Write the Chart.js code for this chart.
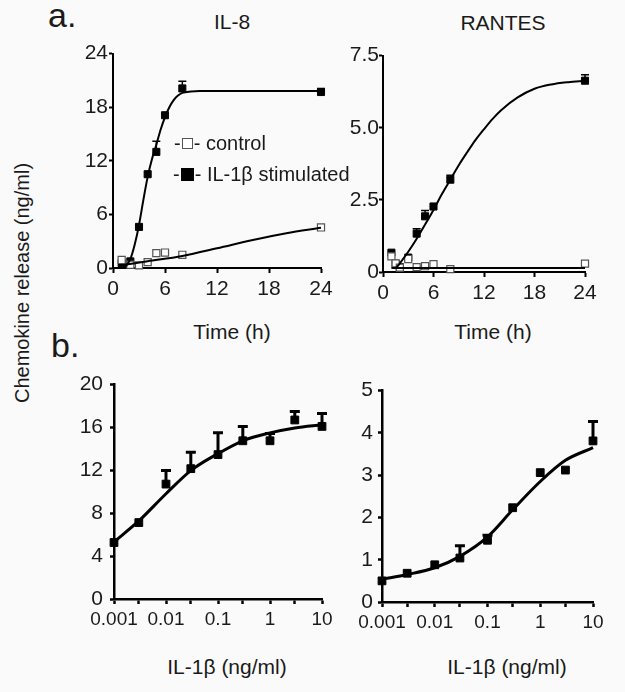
<!DOCTYPE html>
<html>
<head>
<meta charset="utf-8">
<script src="https://cdn.jsdelivr.net/npm/chart.js@4.4.0/dist/chart.umd.min.js"></script>
<style>
body { margin: 0; background: #fafafa; font-family: 'Liberation Sans', Arial, sans-serif; color: #1a1a1a; }
#page { position: relative; width: 625px; height: 692px; overflow: hidden; }
.box { position: absolute; }
.txt { position: absolute; white-space: nowrap; transform: translate(-50%, -50%); font-size: 21px; }
.letter { position: absolute; font-size: 34px; }
.ylab { position: absolute; white-space: nowrap; font-size: 20px; transform: translate(-50%, -50%) rotate(-90deg); }
.leg { position: absolute; font-size: 20px; display: flex; align-items: center; height: 24px; }
.sq { display: inline-block; width: 11px; height: 11px; margin: 0 1px; box-sizing: border-box; }
.sq.open { background: #fff; border: 1.5px solid #555; }
.sq.full { background: #000; width: 13px; height: 13px; }
</style>
</head>
<body>
<div id="page">
  <div class="letter" style="left:48px; top:-4px">a.</div>
  <div class="letter" style="left:51px; top:326px">b.</div>
  <div class="txt" style="left:232px; top:22px">IL-8</div>
  <div class="txt" style="left:503px; top:23px">RANTES</div>
  <div class="txt" style="left:232px; top:332px">Time (h)</div>
  <div class="txt" style="left:493px; top:332px">Time (h)</div>
  <div class="txt" style="left:227px; top:667px">IL-1β (ng/ml)</div>
  <div class="txt" style="left:507px; top:667px">IL-1β (ng/ml)</div>
  <div class="ylab" style="left:22px; top:283px">Chemokine release (ng/ml)</div>

  <div class="box" style="left:63px; top:40px; width:278px; height:263px"><canvas id="il8TimeChart"></canvas></div>
  <div class="box" style="left:333px; top:43px; width:272px; height:264px"><canvas id="rantesTimeChart"></canvas></div>
  <div class="box" style="left:64px; top:365px; width:283px; height:269px"><canvas id="il8DoseChart"></canvas></div>
  <div class="box" style="left:332px; top:373px; width:286px; height:264px"><canvas id="rantesDoseChart"></canvas></div>

  <div class="leg" style="left:174px; top:131px">-<i class="sq open"></i>-&nbsp;control</div>
  <div class="leg" style="left:173px; top:162px">-<i class="sq full"></i>-&nbsp;IL-1β stimulated</div>
</div>
<script>
// IL-8, time course
const il8Time = [1, 2, 3, 4, 5, 6, 8, 24];
const il8Stim = [0.55, 0.74, 4.6, 10.5, 13.0, 17.1, 20.1, 19.7];
const il8StimErr = [null, null, null, null, 14.2, null, 20.9, 20.1];
const il8Ctrl = [0.9, 0.37, 0.3, 0.66, 1.66, 1.73, 1.48, 4.54];
const il8FitTime = [1.4, 2, 2.5, 3, 3.5, 4, 4.5, 5, 5.5, 6, 6.5, 7, 7.5, 8, 9, 10, 12, 16, 24];
const il8StimFit = [0.1, 1.0, 2.6, 4.8, 7.6, 10.2, 12.2, 13.8, 15.5, 16.9, 18.0, 18.8, 19.3, 19.6, 19.75, 19.8, 19.8, 19.8, 19.8];
const il8CtrlFitTime = [1, 4, 8, 12, 16, 20, 24];
const il8CtrlFit = [0.3, 0.75, 1.35, 2.2, 3.1, 3.9, 4.5];

// RANTES, time course
const rantesTime = [1, 1.5, 2, 3, 4, 5, 6, 8, 24];
const rantesStim = [0.67, 0.29, 0.17, 0.5, 1.33, 1.93, 2.27, 3.2, 6.63];
const rantesStimErr = [null, null, null, null, 1.5, 2.13, null, 3.35, 6.84];
const rantesCtrl = [0.54, 0.3, 0.15, 0.45, 0.17, 0.2, 0.27, 0.1, 0.29];
const rantesFitTime = [1.6, 2, 3, 4, 5, 6, 7, 8, 9, 10, 11, 12, 13, 14, 16, 18, 20, 22, 24];
const rantesStimFit = [0.15, 0.3, 0.7, 1.15, 1.65, 2.15, 2.7, 3.2, 3.7, 4.15, 4.58, 4.95, 5.3, 5.6, 6.05, 6.35, 6.5, 6.58, 6.63];
const rantesCtrlFitTime = [1, 24];
const rantesCtrlFit = [0.14, 0.14];

// dose response
const doses = [0.001, 0.003, 0.01, 0.03, 0.1, 0.3, 1, 3, 10];
const il8Dose = [5.27, 7.13, 10.72, 12.16, 13.47, 14.76, 14.76, 16.7, 16.1];
const il8DoseErr = [null, null, 11.98, 13.7, 15.5, 16.1, 15.45, 17.5, 17.3];
const il8DoseFit = [5.33, 7.28, 9.82, 11.98, 13.56, 14.76, 15.5, 15.96, 16.26];
const rantesDose = [0.5, 0.68, 0.88, 1.04, 1.46, 2.23, 3.06, 3.12, 3.81];
const rantesDoseErr = [null, null, null, 1.33, 1.58, null, null, null, 4.27];
const rantesDoseFit = [0.54, 0.65, 0.81, 1.08, 1.54, 2.18, 2.85, 3.35, 3.65];

// tick labels
const timeTicks = [0, 6, 12, 18, 24];
const timeLabels = ['0', '6', '12', '18', '24'];
const il8TimeTicks = [0, 6, 12, 18, 24];
const il8TimeLabels = ['0', '6', '12', '18', '24'];
const rantesTimeTicks = [0, 2.5, 5, 7.5];
const rantesTimeLabels = ['0', '2.5', '5.0', '7.5'];
const doseLabels = ['0.001', '', '0.01', '', '0.1', '', '1', '', '10'];
const il8DoseTicks = [0, 4, 8, 12, 16, 20];
const il8DoseLabels = ['0', '4', '8', '12', '16', '20'];
const rantesDoseTicks = [0, 1, 2, 3, 4, 5];
const rantesDoseLabels = ['0', '1', '2', '3', '4', '5'];

const fontFamily = "'Liberation Sans', Arial, sans-serif";

function pts(xs, ys) {
    return xs.map((x, i) => ({x: x, y: ys[i]}));
}

// upward error bars, drawn through the chart's y scale
const errorBars = {
    id: 'errorBars',
    afterDatasetsDraw(chart) {
        const ctx = chart.ctx;
        const yScale = chart.scales.y;
        chart.data.datasets.forEach((ds, di) => {
            if (!ds.errTop) return;
            const meta = chart.getDatasetMeta(di);
            const cap = ds.errCap || 4;
            ctx.save();
            ctx.strokeStyle = '#000';
            ctx.lineWidth = ds.errWidth || 1.5;
            meta.data.forEach((pt, i) => {
                const top = ds.errTop[i];
                if (top == null) return;
                const yTop = yScale.getPixelForValue(top);
                ctx.beginPath();
                ctx.moveTo(pt.x, pt.y);
                ctx.lineTo(pt.x, yTop);
                ctx.moveTo(pt.x - cap, yTop);
                ctx.lineTo(pt.x + cap, yTop);
                ctx.stroke();
            });
            ctx.restore();
        });
    }
};

function fitLine(xs, ys, width) {
    return {
        data: pts(xs, ys),
        showLine: true,
        borderColor: '#000',
        borderWidth: width,
        pointRadius: 0,
        cubicInterpolationMode: 'monotone',
        clip: false
    };
}

function markers(xs, ys, err, open, r, errW, cap) {
    return {
        data: pts(xs, ys),
        showLine: false,
        pointStyle: 'rect',
        pointRadius: r,
        backgroundColor: open ? '#fff' : '#000',
        borderColor: open ? '#555' : '#000',
        borderWidth: open ? 1.2 : 1,
        errTop: err,
        errWidth: errW,
        errCap: cap,
        clip: false
    };
}

function panelOptions(p) {
    return {
        responsive: true,
        maintainAspectRatio: false,
        animation: false,
        layout: {padding: {top: 12, right: p.padRight, left: 0, bottom: 0}},
        plugins: {legend: {display: false}, tooltip: {enabled: false}},
        scales: {
            x: {
                type: p.xType,
                min: p.xMin,
                max: p.xMax,
                afterBuildTicks: s => { s.ticks = p.xTicks.map(v => ({value: v})); },
                afterFit: s => { s.height = 35; },
                border: {display: true, color: '#000', width: p.lw},
                grid: {display: true, drawOnChartArea: false, drawTicks: true, tickLength: 5, tickWidth: p.lw, tickColor: '#000'},
                ticks: {
                    color: '#1a1a1a', font: {family: fontFamily, size: p.xFont}, padding: 4,
                    autoSkip: false, maxRotation: 0, callback: (v, i) => p.xLabels[i]
                }
            },
            y: {
                type: 'linear',
                min: 0,
                max: p.yMax,
                afterBuildTicks: s => { s.ticks = p.yTicks.map(v => ({value: v})); },
                afterFit: s => { s.width = 50; },
                border: {display: true, color: '#000', width: p.lw},
                grid: {display: true, drawOnChartArea: false, drawTicks: true, tickLength: 4, tickWidth: p.lw, tickColor: '#000'},
                ticks: {
                    color: '#1a1a1a', font: {family: fontFamily, size: p.yFont}, padding: p.yPad,
                    autoSkip: false, callback: (v, i) => p.yLabels[i]
                }
            }
        }
    };
}

// IL-8 time course
new Chart(document.getElementById('il8TimeChart'), {
    type: 'scatter',
    data: {
        datasets: [
            fitLine(il8CtrlFitTime, il8CtrlFit, 2),
            fitLine(il8FitTime, il8StimFit, 2),
            markers(il8Time, il8Ctrl, null, true, 5),
            markers(il8Time, il8Stim, il8StimErr, false, 5, 1.5, 4)
        ]
    },
    options: panelOptions({
        xType: 'linear', xMin: 0, xMax: 24, xTicks: timeTicks, xLabels: timeLabels,
        yMax: 24, yTicks: il8TimeTicks, yLabels: il8TimeLabels,
        lw: 2, padRight: 20, xFont: 21, yFont: 21, yPad: 1
    }),
    plugins: [errorBars]
});

// RANTES time course
new Chart(document.getElementById('rantesTimeChart'), {
    type: 'scatter',
    data: {
        datasets: [
            fitLine(rantesCtrlFitTime, rantesCtrlFit, 2),
            fitLine(rantesFitTime, rantesStimFit, 2),
            markers(rantesTime, rantesCtrl, null, true, 5),
            markers(rantesTime, rantesStim, rantesStimErr, false, 5, 1.5, 4)
        ]
    },
    options: panelOptions({
        xType: 'linear', xMin: 0, xMax: 24, xTicks: timeTicks, xLabels: timeLabels,
        yMax: 7.5, yTicks: rantesTimeTicks, yLabels: rantesTimeLabels,
        lw: 2, padRight: 20, xFont: 21, yFont: 21, yPad: 0
    }),
    plugins: [errorBars]
});

// IL-8 dose response
new Chart(document.getElementById('il8DoseChart'), {
    type: 'scatter',
    data: {
        datasets: [
            fitLine(doses, il8DoseFit, 3),
            markers(doses, il8Dose, il8DoseErr, false, 5.5, 3, 5)
        ]
    },
    options: panelOptions({
        xType: 'logarithmic', xMin: 0.001, xMax: 10, xTicks: doses, xLabels: doseLabels,
        yMax: 20, yTicks: il8DoseTicks, yLabels: il8DoseLabels,
        lw: 2.5, padRight: 25, xFont: 19, yFont: 21, yPad: 7
    }),
    plugins: [errorBars]
});

// RANTES dose response
new Chart(document.getElementById('rantesDoseChart'), {
    type: 'scatter',
    data: {
        datasets: [
            fitLine(doses, rantesDoseFit, 3),
            markers(doses, rantesDose, rantesDoseErr, false, 5.5, 3, 5)
        ]
    },
    options: panelOptions({
        xType: 'logarithmic', xMin: 0.001, xMax: 10, xTicks: doses, xLabels: doseLabels,
        yMax: 5, yTicks: rantesDoseTicks, yLabels: rantesDoseLabels,
        lw: 2.5, padRight: 25, xFont: 19, yFont: 21, yPad: 5
    }),
    plugins: [errorBars]
});
</script>
</body>
</html>
